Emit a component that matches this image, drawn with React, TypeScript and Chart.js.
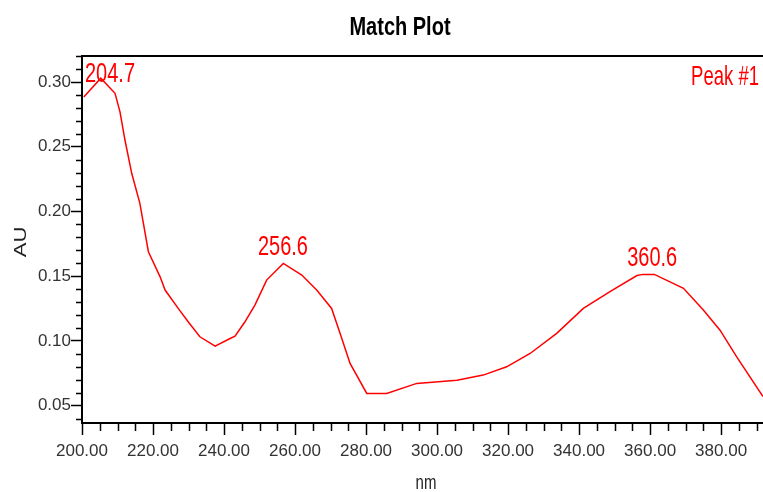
import React, { useEffect, useRef } from "react";
import { Chart, registerables } from "chart.js";

Chart.register(...registerables);

const chartTitle = "Match Plot";
const xAxisLabel = "nm";
const yAxisLabel = "AU";
const peakName = "Peak #1";

const wavelengths = [
  200.5, 205.3, 209.3, 210.7, 212.1, 214.0, 216.3, 218.7, 222.0, 223.4, 227.1,
  229.9, 233.2, 237.5, 241.7, 243.1, 245.9, 248.7, 252.0, 256.7, 261.9, 266.1,
  270.3, 272.7, 275.5, 280.2, 285.8, 294.3, 305.6, 313.0, 319.6, 326.2, 333.7,
  341.2, 348.7, 356.3, 358.0, 361.2, 369.4, 375.0, 379.7, 384.4, 391.8,
];
const absorbance = [
  0.2885, 0.303, 0.2913, 0.277, 0.2552, 0.2295, 0.2063, 0.1689, 0.1495, 0.1393,
  0.1251, 0.1148, 0.1032, 0.096, 0.1019, 0.1037, 0.1148, 0.1277, 0.147, 0.1599,
  0.1509, 0.1393, 0.1251, 0.1058, 0.0826, 0.0594, 0.0594, 0.0672, 0.0697,
  0.0736, 0.08, 0.0903, 0.1058, 0.1251, 0.138, 0.1505, 0.1514, 0.1514, 0.1406,
  0.1238, 0.1083, 0.0877, 0.057,
];

const peakWavelengths = [204.7, 256.6, 360.6];
const peakAbsorbance = [0.303, 0.1599, 0.1514];
const peakLabels = ["204.7", "256.6", "360.6"];

const xMajorTicks = [200, 220, 240, 260, 280, 300, 320, 340, 360, 380];
const yMajorTicks = [0.05, 0.1, 0.15, 0.2, 0.25, 0.3];
const xRange = [200, 391.8];
const yRange = [0.0366, 0.3201];

const RED = "#ff0000";
const FONT = "'Liberation Sans', Arial, Helvetica, sans-serif";

function stretchedText(
  ctx: CanvasRenderingContext2D,
  text: string,
  x: number,
  y: number,
  font: string,
  color: string,
  align: CanvasTextAlign,
  sy: number,
  rotate = 0
) {
  ctx.save();
  ctx.translate(x, y);
  if (rotate) ctx.rotate(rotate);
  if (rotate) ctx.scale(sy, 1);
  else ctx.scale(1, sy);
  ctx.font = font;
  ctx.fillStyle = color;
  ctx.textAlign = align;
  ctx.textBaseline = rotate ? "middle" : "alphabetic";
  ctx.fillText(text, 0, 0);
  ctx.restore();
}

const decorPlugin = {
  id: "decor",
  afterDraw(chart: any) {
    const ctx: CanvasRenderingContext2D = chart.ctx;
    const { left, top, bottom } = chart.chartArea;
    const xs = chart.scales.x;
    const ys = chart.scales.y;
    const W = chart.width;

    ctx.save();
    ctx.strokeStyle = "#000";
    ctx.lineWidth = 2;
    ctx.beginPath();
    ctx.moveTo(left - 1, top);
    ctx.lineTo(W, top);
    ctx.stroke();

    ctx.lineWidth = 1.5;
    ctx.beginPath();
    for (let v = 205; v <= xRange[1]; v += 5) {
      if (v % 20 === 0) continue;
      const px = Math.round(xs.getPixelForValue(v)) + 0.5;
      ctx.moveTo(px, bottom);
      ctx.lineTo(px, bottom + 8);
    }
    for (let i = 4; i <= 32; i++) {
      if (i % 5 === 0) continue;
      const v = i / 100;
      if (v < yRange[0] || v > yRange[1]) continue;
      const py = Math.round(ys.getPixelForValue(v)) + 0.5;
      ctx.moveTo(left, py);
      ctx.lineTo(left - 6, py);
    }
    ctx.stroke();
    ctx.restore();

    stretchedText(ctx, chartTitle, 400, 35, `bold 20px ${FONT}`, "#000", "center", 1.25);
    stretchedText(ctx, xAxisLabel, 426, 489, `15px ${FONT}`, "#222", "center", 1.4);
    stretchedText(ctx, yAxisLabel, 21, 242, `17px ${FONT}`, "#222", "center", 1.3, -Math.PI / 2);

    const labelFont = `20px ${FONT}`;
    ctx.save();
    ctx.font = labelFont;
    peakLabels.forEach((lbl, i) => {
      const w = ctx.measureText(lbl).width;
      let cx = xs.getPixelForValue(peakWavelengths[i]);
      let base = ys.getPixelForValue(peakAbsorbance[i]) - 8;
      if (cx - w / 2 < left + 3) cx = left + 3 + w / 2;
      if (base - 20 < top + 6) base = top + 26;
      stretchedText(ctx, lbl, cx, base, labelFont, RED, "center", 1.4);
    });
    ctx.restore();
    stretchedText(ctx, peakName, 759, 85, `18.5px ${FONT}`, RED, "right", 1.45);
  },
};

export default function App() {
  const ref = useRef<HTMLCanvasElement | null>(null);

  useEffect(() => {
    if (!ref.current) return;
    const data = wavelengths.map((x, i) => ({ x, y: absorbance[i] }));
    const chart = new Chart(ref.current, {
      type: "line",
      data: {
        datasets: [
          {
            data,
            borderColor: RED,
            borderWidth: 1.5,
            pointRadius: 0,
            tension: 0,
            fill: false,
          },
        ],
      },
      options: {
        animation: false,
        responsive: false,
        maintainAspectRatio: false,
        layout: { padding: { top: 56, left: 0, right: 0, bottom: 0 } },
        plugins: {
          legend: { display: false },
          tooltip: { enabled: false },
          title: { display: false },
        },
        scales: {
          x: {
            type: "linear",
            min: xRange[0],
            max: xRange[1],
            afterBuildTicks: (s: any) => {
              s.ticks = xMajorTicks.map((v) => ({ value: v }));
            },
            afterFit: (s: any) => {
              s.height = 69;
            },
            ticks: {
              autoSkip: false,
              maxRotation: 0,
              padding: 6,
              color: "#333",
              font: { family: FONT, size: 17 },
              callback: (v: any) => Number(v).toFixed(2),
            },
            grid: {
              drawOnChartArea: false,
              tickLength: 12,
              tickWidth: 1.5,
              tickColor: "#000",
            },
            border: { color: "#000", width: 2 },
          },
          y: {
            type: "linear",
            min: yRange[0],
            max: yRange[1],
            afterBuildTicks: (s: any) => {
              s.ticks = yMajorTicks.map((v) => ({ value: v }));
            },
            afterFit: (s: any) => {
              s.width = 82;
            },
            ticks: {
              autoSkip: false,
              padding: 0,
              color: "#333",
              font: { family: FONT, size: 17 },
              callback: (v: any) => Number(v).toFixed(2),
            },
            grid: {
              drawOnChartArea: false,
              tickLength: 11,
              tickWidth: 1.5,
              tickColor: "#000",
            },
            border: { color: "#000", width: 2 },
          },
        },
      },
      plugins: [decorPlugin],
    });
    return () => chart.destroy();
  }, []);

  return (
    <div style={{ position: "absolute", left: 0, top: 0, width: 763, height: 492, background: "#fff" }}>
      <canvas ref={ref} width={763} height={492} style={{ display: "block" }} />
    </div>
  );
}
